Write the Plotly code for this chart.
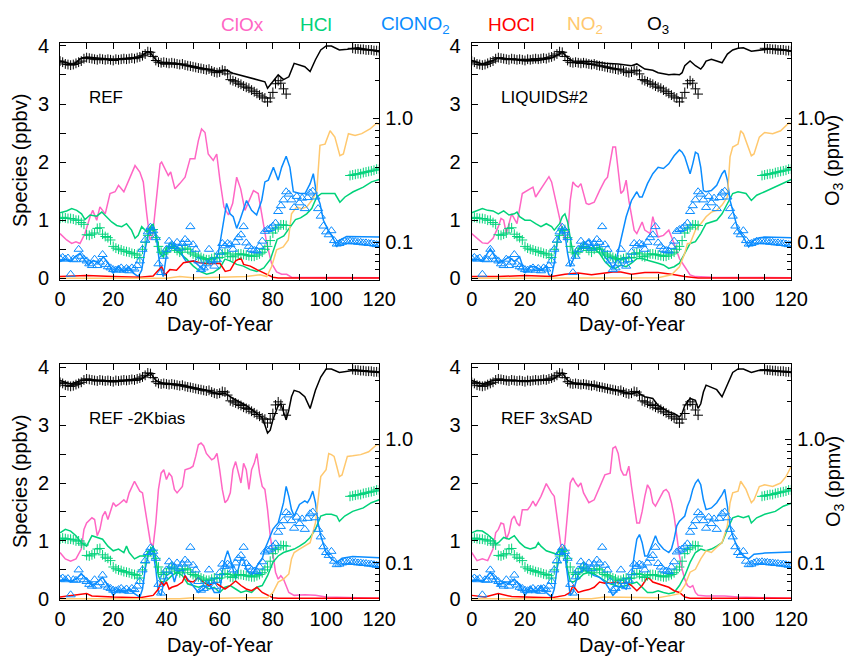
import plotly.graph_objects as go

# ---------------- data (day-of-year, value) ----------------
PANELS = ["REF", "LIQUIDS#2", "REF -2Kbias", "REF 3xSAD"]

# Observations (same in every panel); O3 in ppmv (right, log axis), others in ppbv
OBS_O3_DAYS = list(range(0, 86)) + list(range(110, 121))
OBS_O3 = [2.88, 2.82, 2.73, 2.70, 2.67, 2.70, 2.76, 2.82, 2.88, 3.01,
          3.07, 3.04, 3.01, 2.98, 2.95, 3.01, 2.98, 2.95, 2.98, 2.95,
          2.91, 2.98, 2.95, 2.98, 3.01, 2.98, 3.01, 3.04, 3.01, 3.07,
          3.11, 3.18, 3.28, 3.43, 3.39, 3.14, 2.91, 2.82, 2.79, 2.82,
          2.79, 2.76, 2.79, 2.76, 2.73, 2.70, 2.73, 2.67, 2.64, 2.62,
          2.59, 2.56, 2.53, 2.51, 2.48, 2.45, 2.48, 2.40, 2.35, 2.32,
          2.35, 2.43, 2.40, 2.27, 2.04, 2.00, 1.96, 1.91, 1.87, 1.81,
          1.77, 1.74, 1.68, 1.63, 1.58, 1.53, 1.48, 1.45, 1.35, 1.45,
          1.61, 1.89, 2.00, 1.91, 1.72, 1.56,
          3.65, 3.61, 3.61, 3.58, 3.58, 3.54, 3.54, 3.54, 3.50, 3.50, 3.46]

OBS_HCL_DAYS = list(range(0, 86)) + list(range(109, 121))
OBS_HCL = [1.03, 1.05, 1.04, 1.03, 1.03, 1.02, 1.00, 1.00, 0.96, 0.93,
           0.75, 0.74, 0.76, 0.78, 0.86, 0.87, 0.76, 0.72, 0.70, 0.66,
           0.55, 0.52, 0.50, 0.49, 0.47, 0.46, 0.45, 0.43, 0.42, 0.40,
           0.36, 0.50, 0.62, 0.74, 0.82, 0.84, 0.70, 0.55, 0.45, 0.42,
           0.45, 0.52, 0.55, 0.52, 0.48, 0.45, 0.50, 0.52, 0.50, 0.45,
           0.42, 0.40, 0.38, 0.36, 0.34, 0.32, 0.32, 0.34, 0.36, 0.35,
           0.36, 0.42, 0.44, 0.42, 0.38, 0.37, 0.40, 0.42, 0.42, 0.41,
           0.40, 0.39, 0.38, 0.38, 0.40, 0.42, 0.45, 0.50, 0.55, 0.65,
           0.78, 0.85, 0.88, 0.92, 0.92, 0.91,
           1.77, 1.78, 1.79, 1.80, 1.80, 1.82, 1.83, 1.84, 1.85, 1.86, 1.88, 1.88]

OBS_CLONO2_DAYS = list(range(0, 121))
OBS_CLONO2 = [0.34, 0.36, 0.33, 0.35, 0.07, 0.33, 0.32, 0.50, 0.38, 0.33,
              0.30, 0.25, 0.22, 0.33, 0.22, 0.28, 0.41, 0.24, 0.20, 0.18,
              0.15, 0.14, 0.16, 0.18, 0.14, 0.17, 0.13, 0.18, 0.16, 0.22,
              0.30, 0.50, 0.66, 0.80, 0.88, 0.82, 0.70, 0.25, 0.10, 0.38,
              0.50, 0.64, 0.58, 0.55, 0.62, 0.52, 0.60, 0.67, 0.62, 0.89,
              0.58, 0.50, 0.30, 0.15, 0.18, 0.25, 0.50, 0.30, 0.21, 0.32,
              0.45, 0.60, 0.56, 0.60, 0.58, 0.50, 0.62, 0.70, 0.75, 0.89,
              0.61, 0.55, 0.50, 0.48, 0.47, 0.55, 0.64, 0.81, 0.84, 0.86,
              0.90, 0.95, 1.15, 1.25, 1.35, 1.49, 1.45, 1.35, 1.22, 1.41,
              1.30, 1.38, 1.20, 1.39, 1.47, 1.50, 1.40, 1.20, 1.07, 0.90,
              0.80, 0.75, 0.82, 0.65, 0.59, 0.60, 0.62, 0.64, 0.63, 0.64,
              0.63, 0.63, 0.62, 0.62, 0.61, 0.61, 0.60, 0.60, 0.59, 0.58, 0.58]

# ---- Model: REF ----
REF_CLOX = [(0,0.77),(2.5,0.66),(4.4,0.6),(6,0.63),(7.5,0.6),(9.4,0.77),(11.3,1.06),(12.3,1.17),(13.8,1.0),(15,1.23),(17,1.11),(18.8,1.46),(20.7,1.49),(22,1.6),(24,1.49),(26.3,1.74),(28.2,1.94),(30,1.83),(31.3,1.66),(32.6,1.11),(33.8,0.66),(34.8,0.74),(36.3,1.34),(37.6,1.97),(38.2,2.0),(39.5,1.89),(40.7,1.77),(41.6,1.83),(43.2,1.54),(45,1.63),(47,1.74),(48.9,2.06),(50.7,2.06),(52,2.37),(53.2,2.57),(54.5,2.51),(55.7,2.14),(57.6,2.03),(58.9,2.14),(60.1,1.69),(61.6,1.23),(63.3,1.09),(64.9,1.29),(66.4,1.74),(67.9,1.54),(69.5,1.17),(71.2,1.34),(72.7,1.51),(74.5,1.46),(75.8,1.11),(77.7,0.6),(79.5,0.26),(81.4,0.11),(83.3,0.07),(85.2,0.07),(87,0.02),(100,0.02),(120,0.01)]
REF_HCL = [(0,1.13),(2.5,1.16),(4.4,1.2),(6.3,1.17),(8.1,1.11),(9.4,1.01),(11.3,1.09),(13.8,1.07),(15.7,1.14),(17.5,1.06),(19.4,0.97),(21.3,0.91),(23.2,0.89),(25,0.94),(26.9,0.83),(28.2,0.69),(29.4,0.74),(30.7,0.89),(32.6,0.8),(34,0.89),(35,0.93),(36.3,0.71),(37.6,0.43),(38.8,0.37),(40.1,0.54),(42,0.55),(44,0.47),(46,0.4),(47.6,0.33),(50.1,0.21),(52.6,0.12),(55.1,0.07),(57.6,0.1),(60.1,0.18),(62,0.33),(63.9,0.3),(66.4,0.24),(68.9,0.21),(71.5,0.15),(74,0.12),(76.6,0.18),(79.1,0.33),(81.6,0.67),(84.1,0.73),(86.6,0.9),(88.5,1.01),(90.4,1.04),(92.7,1.11),(94.6,1.2),(96.5,1.4),(98.3,1.46),(103.3,1.46),(105.2,1.31),(107.1,1.4),(110.2,1.49),(114,1.57),(117.1,1.66),(120,1.7)]
REF_CLONO2 = [(0,0.29),(1.9,0.33),(3.8,0.29),(5.6,0.37),(7.5,0.43),(9.4,0.31),(10.6,0.23),(12.5,0.31),(14.4,0.26),(16.3,0.37),(18.2,0.26),(20,0.09),(21.9,0.2),(23.8,0.11),(25.7,0.2),(27.6,0.09),(29.4,0.03),(30.7,0.14),(31.7,0.43),(33.2,0.77),(34.4,0.89),(35.7,0.77),(36.3,0.66),(37.6,0.2),(38.8,0.03),(40.1,0.43),(41.3,0.6),(43.2,0.55),(45.1,0.5),(46.4,0.36),(47.6,0.28),(50.2,0.3),(52.6,0.2),(54.1,0.14),(55.7,0.31),(57.6,0.26),(59.5,0.43),(60.8,0.77),(62.6,1.29),(63.9,1.11),(65.1,1.06),(66.4,0.86),(67.6,1.0),(70.1,1.34),(72,1.17),(73.9,1.09),(75.8,1.34),(77,1.66),(78.3,1.69),(80.2,1.91),(82,1.69),(83.3,1.91),(85,2.1),(86.4,1.91),(87.7,1.49),(90.2,1.46),(92.1,1.46),(94,1.63),(95.2,1.8),(96.5,1.43),(97.7,1.29),(99,1.0),(100.8,0.83),(102.7,0.69),(104,0.54),(105.2,0.66),(107.7,0.72),(120,0.71)]
REF_HOCL = [(0,0.03),(10,0.05),(20,0.03),(30,0.02),(35,0.04),(36.3,0.11),(38.2,0.2),(39.5,0.06),(41.3,0.15),(43.8,0.14),(46.4,0.27),(50.2,0.3),(52.6,0.27),(56.4,0.25),(60.1,0.26),(62.1,0.12),(64,0.14),(66,0.3),(68,0.35),(69,0.24),(71.5,0.21),(74,0.15),(77.9,0.07),(80,0.02),(82,0.005),(120,0.005)]
REF_NO2 = [(0,0.0),(40,0.0),(45,0.03),(50,0.01),(60,0.02),(70,0.03),(75.2,0.06),(77.7,0.03),(79.5,0.2),(81.4,0.49),(83.9,0.54),(85.8,0.66),(87,1.11),(89,1.23),(90.8,1.2),(92.7,1.23),(94.6,1.34),(96.5,1.5),(97.7,2.29),(99.6,2.31),(101.5,2.54),(103.3,2.43),(105.2,2.11),(106.5,2.14),(108.4,2.49),(110.9,2.46),(113.4,2.49),(116.5,2.57),(119,2.67),(120,2.65)]
REF_O3 = [(0,2.88),(3,2.76),(5,2.70),(8,3.04),(10,3.11),(15,3.04),(20,2.98),(25,3.04),(30,3.11),(33,3.43),(34,3.35),(36,2.95),(38,2.73),(45,2.73),(50,2.59),(55,2.48),(60,2.37),(62,2.45),(65,2.30),(70,2.15),(75,2.00),(77,1.96),(78,1.74),(80,1.96),(82,2.23),(84,2.04),(86,2.15),(88,2.76),(90,2.67),(92,2.59),(94,2.37),(96,2.95),(98,3.54),(100,3.81),(102,3.81),(105,3.54),(108,3.58),(112,3.69),(120,3.43)]

# ---- Model: LIQUIDS#2 ----
LIQ_CLOX = [(0,0.77),(2,0.69),(4,0.61),(6,0.6),(8,0.69),(10,0.89),(11,1.03),(12,1.0),(13,0.77),(15,1.11),(17,0.94),(19,1.46),(21,1.51),(23,1.57),(24,1.4),(26,1.54),(28,1.69),(29,1.75),(30,1.66),(32,1.23),(34,0.83),(35,0.66),(36,0.71),(37,1.34),(38,1.66),(39,1.6),(40,1.57),(41,1.63),(42,1.46),(43,1.29),(44,1.27),(46,1.31),(48,1.51),(50,1.69),(51,1.74),(52,1.97),(53,2.26),(54,2.26),(55,1.8),(56,1.46),(57,1.51),(58,1.69),(59,1.34),(60,1.06),(61,0.83),(62,0.77),(64,0.97),(65,0.83),(67,0.77),(68,1.06),(69,0.89),(70,0.71),(72,0.74),(74,0.83),(76,0.6),(78,0.34),(80,0.2),(82,0.06),(84,0.03),(90,0.02),(120,0.01)]
LIQ_HCL = [(0,1.13),(2,1.16),(4,1.2),(6,1.17),(8,1.16),(10,1.11),(12,1.16),(14,1.09),(16,1.11),(17,1.14),(18,1.06),(20,1.0),(22,1.0),(24,0.94),(26,0.89),(28,0.94),(30,0.89),(31,0.83),(33,0.94),(34,1.06),(35,1.11),(36,0.97),(37,0.66),(38,0.43),(39,0.43),(40,0.49),(42,0.54),(44,0.54),(46,0.51),(48,0.43),(50,0.29),(52,0.2),(54,0.17),(56,0.23),(58,0.2),(60,0.26),(62,0.34),(64,0.34),(66,0.31),(68,0.29),(70,0.26),(72,0.23),(74,0.17),(76,0.2),(78,0.26),(80,0.43),(82,0.6),(84,0.63),(86,0.77),(88,0.94),(90,0.97),(92,1.0),(94,1.11),(96,1.29),(98,1.46),(100,1.49),(103,1.46),(105,1.34),(107,1.43),(110,1.49),(114,1.57),(117,1.64),(120,1.7)]
LIQ_CLONO2 = [(0,0.33),(2,0.33),(4,0.29),(6,0.43),(7,0.51),(8,0.43),(10,0.26),(12,0.31),(14,0.37),(16,0.29),(18,0.37),(20,0.09),(22,0.2),(24,0.2),(26,0.14),(28,0.2),(29,0.06),(30,0.03),(31,0.26),(32,0.6),(33,0.77),(34,0.89),(35,0.77),(36,0.43),(37,0.2),(38,0.31),(39,0.43),(40,0.49),(42,0.6),(44,0.66),(46,0.51),(48,0.54),(50,0.37),(52,0.26),(53,0.17),(54,0.26),(56,0.66),(58,1.06),(60,1.34),(62,1.49),(63,1.4),(64,1.4),(66,1.63),(68,1.8),(70,1.91),(72,1.89),(74,1.97),(76,2.11),(78,2.21),(79,2.17),(80,2.09),(82,1.8),(83,1.97),(84,2.17),(85,2.14),(86,1.91),(87,1.51),(88,1.49),(90,1.51),(92,1.6),(94,1.8),(95,1.86),(96,1.69),(97,1.34),(98,1.17),(100,0.83),(102,0.71),(104,0.54),(106,0.66),(108,0.7),(110,0.71),(120,0.7)]
LIQ_HOCL = [(0,0.03),(10,0.03),(20,0.05),(30,0.03),(35,0.07),(40,0.09),(45,0.06),(50,0.09),(53,0.11),(56,0.11),(60,0.07),(65,0.1),(70,0.1),(75,0.07),(80,0.03),(85,0.005),(120,0.005)]
LIQ_NO2 = [(0,0.0),(70,0.01),(75,0.06),(78,0.2),(80,0.43),(81,0.6),(82,0.6),(84,0.83),(86,0.94),(88,1.06),(90,1.14),(92,1.17),(94,1.26),(96,1.4),(97,2.09),(98,2.26),(100,2.31),(101,2.54),(102,2.49),(103,2.37),(104,2.26),(105,2.11),(106,2.14),(108,2.43),(110,2.51),(113,2.49),(116,2.54),(119,2.67),(120,2.66)]
LIQ_O3 = [(0,2.91),(4,2.73),(8,2.91),(10,3.04),(15,2.98),(20,2.88),(25,2.91),(30,3.04),(34,3.39),(36,3.07),(38,2.88),(45,2.85),(50,2.76),(55,2.73),(60,2.64),(62,2.73),(65,2.48),(68,2.43),(70,2.32),(74,2.23),(76,2.25),(78,2.23),(79,2.32),(80,2.64),(82,2.88),(84,2.64),(86,2.48),(87,2.64),(88,2.88),(90,2.98),(92,2.88),(94,2.79),(96,3.28),(98,3.54),(100,3.65),(102,3.69),(105,3.46),(108,3.54),(112,3.61),(116,3.58),(120,3.46)]

# ---- Model: REF -2Kbias ----
BIAS_CLOX = [(0,0.8),(2,0.69),(4,0.65),(6,0.69),(8,0.86),(9,1.2),(10,1.31),(12,1.4),(13,1.37),(14,1.09),(15,1.2),(16,1.43),(17,1.51),(18,1.37),(20,1.66),(21,1.6),(22,1.63),(24,1.71),(25,1.66),(26,1.83),(28,2.03),(30,1.86),(31,1.83),(32,1.54),(33,1.2),(34,0.97),(35,0.91),(36,1.31),(37,1.89),(38,2.17),(39,2.23),(40,2.06),(41,2.17),(42,2.11),(43,1.89),(44,1.83),(46,1.94),(47,2.23),(49,2.26),(50,2.29),(51,2.46),(52,2.66),(53,2.69),(54,2.64),(55,2.51),(57,2.4),(58,2.43),(59,2.51),(60,2.23),(61,1.89),(62,1.66),(63,1.71),(64,1.83),(65,2.23),(66,2.37),(67,2.17),(68,2.0),(69,2.34),(70,2.23),(71,1.89),(72,2.23),(73,2.34),(74,2.51),(75,2.17),(76,1.94),(77,1.89),(78,1.54),(79,1.09),(80,0.74),(81,0.46),(82,0.34),(83,0.4),(84,0.34),(85,0.23),(86,0.11),(88,0.06),(92,0.07),(96,0.06),(100,0.03),(120,0.01)]
BIAS_HCL = [(0,1.14),(2,1.2),(4,1.17),(6,1.09),(8,0.97),(10,0.91),(12,1.09),(14,1.06),(16,1.03),(18,0.91),(20,0.83),(22,0.86),(24,0.8),(25,0.91),(26,0.8),(28,0.69),(30,0.74),(32,0.74),(34,0.86),(35,0.91),(36,0.69),(37,0.4),(38,0.29),(40,0.31),(42,0.4),(44,0.46),(46,0.4),(47,0.34),(48,0.26),(50,0.23),(52,0.2),(54,0.23),(56,0.17),(58,0.2),(60,0.11),(62,0.2),(64,0.23),(66,0.17),(68,0.11),(70,0.14),(72,0.11),(74,0.2),(76,0.23),(78,0.4),(80,0.63),(82,0.74),(84,0.8),(86,0.83),(88,0.86),(90,0.91),(92,0.97),(94,1.06),(96,1.2),(98,1.43),(100,1.46),(102,1.46),(104,1.43),(105,1.34),(107,1.43),(110,1.51),(114,1.57),(117,1.66),(120,1.71)]
BIAS_CLONO2 = [(0,0.31),(2,0.34),(4,0.29),(6,0.34),(8,0.43),(10,0.34),(12,0.23),(14,0.29),(16,0.37),(18,0.23),(20,0.06),(22,0.17),(24,0.11),(26,0.17),(28,0.09),(30,0.03),(31,0.17),(32,0.51),(33,0.74),(34,0.86),(35,0.8),(36,0.51),(37,0.11),(38,0.06),(39,0.29),(40,0.4),(42,0.46),(43,0.29),(44,0.46),(46,0.51),(47,0.4),(48,0.34),(50,0.23),(52,0.11),(54,0.17),(56,0.29),(58,0.11),(60,0.11),(61,0.46),(62,0.69),(63,0.83),(64,0.69),(66,0.34),(67,0.51),(68,0.69),(69,0.69),(70,0.51),(72,0.4),(74,0.57),(76,0.69),(77,0.86),(78,0.97),(80,1.2),(81,1.26),(82,1.31),(84,1.66),(85,1.94),(86,1.77),(87,1.54),(88,1.43),(90,1.63),(92,1.69),(93,1.66),(94,1.74),(95,1.86),(96,1.66),(97,1.31),(98,1.09),(100,0.8),(102,0.69),(104,0.63),(106,0.7),(110,0.73),(120,0.71)]
BIAS_HOCL = [(0,0.03),(10,0.09),(12,0.05),(20,0.03),(30,0.02),(35,0.06),(37,0.17),(38,0.29),(39,0.23),(40,0.29),(41,0.17),(42,0.2),(44,0.23),(46,0.29),(47,0.4),(48,0.31),(50,0.29),(52,0.37),(54,0.29),(56,0.23),(58,0.29),(60,0.23),(62,0.17),(64,0.23),(66,0.31),(68,0.23),(70,0.17),(72,0.14),(74,0.2),(76,0.11),(78,0.06),(80,0.02),(82,0.01),(120,0.01)]
BIAS_NO2 = [(0,0.0),(45,0.0),(50,0.02),(60,0.01),(70,0.02),(78,0.02),(80,0.11),(82,0.29),(84,0.34),(86,0.43),(87,0.69),(88,0.8),(90,0.86),(92,0.91),(94,0.97),(96,1.31),(97,1.77),(98,2.11),(100,2.23),(101,2.51),(102,2.49),(103,2.46),(104,2.29),(105,2.11),(106,2.14),(108,2.46),(110,2.47),(113,2.49),(116,2.54),(119,2.66),(120,2.66)]
BIAS_O3 = [(0,2.98),(4,2.79),(8,2.98),(10,3.01),(20,2.91),(30,3.01),(34,3.43),(36,2.98),(38,2.85),(45,2.76),(50,2.62),(55,2.48),(60,2.30),(62,2.35),(65,2.13),(70,1.87),(74,1.61),(76,1.49),(77,1.30),(78,1.12),(79,1.18),(80,1.43),(82,1.87),(83,1.93),(84,1.66),(85,1.43),(86,1.72),(87,2.20),(88,2.48),(90,2.40),(92,2.20),(94,1.77),(96,2.48),(98,3.18),(100,3.69),(102,3.69),(105,3.46),(110,3.58),(120,3.46)]

# ---- Model: REF 3xSAD ----
SAD_CLOX = [(0,0.8),(2,0.66),(4,0.69),(6,0.66),(8,0.86),(9,1.14),(10,1.2),(11,1.31),(12,1.29),(13,1.03),(14,1.14),(15,1.37),(16,1.43),(17,1.31),(18,1.26),(19,1.54),(21,1.54),(22,1.6),(23,1.69),(24,1.6),(26,1.77),(28,1.99),(30,1.83),(31,1.77),(32,1.43),(33,1.09),(34,0.74),(35,0.97),(36,1.54),(37,2.0),(38,2.09),(39,2.0),(40,1.94),(41,2.0),(42,1.83),(44,1.66),(46,1.71),(48,1.94),(50,2.14),(52,2.17),(53,2.6),(54,2.63),(55,2.51),(56,2.23),(57,2.14),(58,2.14),(59,2.29),(60,1.94),(61,1.6),(62,1.31),(63,1.31),(64,1.51),(65,1.77),(66,1.97),(67,1.89),(68,1.66),(69,1.6),(70,1.69),(71,1.77),(72,1.86),(73,1.89),(74,1.83),(75,1.66),(76,1.43),(77,1.09),(78,0.74),(79,0.51),(80,0.34),(81,0.23),(82,0.2),(83,0.23),(84,0.11),(85,0.06),(88,0.05),(95,0.05),(100,0.03),(120,0.01)]
SAD_HCL = [(0,1.14),(2,1.18),(4,1.17),(6,1.11),(8,1.03),(9,0.94),(10,0.97),(12,1.06),(14,1.03),(16,1.09),(18,0.97),(20,0.89),(22,0.86),(24,0.89),(25,0.97),(26,0.91),(28,0.83),(30,0.8),(32,0.77),(33,0.86),(34,0.86),(35,0.8),(36,0.51),(37,0.31),(38,0.29),(40,0.34),(42,0.43),(44,0.46),(46,0.43),(48,0.37),(50,0.31),(52,0.26),(54,0.23),(56,0.2),(58,0.23),(60,0.26),(62,0.29),(64,0.2),(66,0.11),(68,0.11),(70,0.14),(72,0.11),(74,0.09),(76,0.11),(78,0.23),(80,0.4),(82,0.63),(84,0.8),(86,0.86),(88,0.83),(90,0.86),(92,0.91),(94,0.97),(96,1.2),(98,1.4),(100,1.43),(102,1.4),(104,1.43),(105,1.31),(107,1.4),(110,1.46),(114,1.51),(117,1.6),(120,1.65)]
SAD_CLONO2 = [(0,0.31),(2,0.33),(4,0.29),(6,0.4),(7,0.46),(8,0.4),(10,0.23),(12,0.29),(14,0.26),(16,0.34),(18,0.23),(20,0.06),(22,0.2),(24,0.11),(26,0.23),(28,0.11),(30,0.03),(31,0.17),(32,0.51),(33,0.74),(34,0.86),(35,0.74),(36,0.4),(37,0.06),(38,0.11),(39,0.29),(40,0.43),(42,0.51),(44,0.46),(46,0.4),(48,0.37),(50,0.29),(52,0.14),(53,0.06),(54,0.11),(56,0.23),(58,0.17),(60,0.4),(61,0.74),(62,1.03),(63,1.11),(64,0.97),(65,0.74),(66,0.74),(68,0.97),(69,1.09),(70,0.97),(72,0.86),(74,0.8),(75,0.86),(76,1.03),(77,1.26),(78,1.34),(80,1.43),(81,1.6),(82,1.71),(83,1.89),(84,2.0),(85,2.06),(86,1.97),(87,1.71),(88,1.54),(90,1.57),(92,1.66),(94,1.8),(95,1.89),(96,1.6),(97,1.26),(98,1.09),(100,0.86),(102,0.74),(104,0.69),(106,0.77),(110,0.79),(115,0.8),(120,0.81)]
SAD_HOCL = [(0,0.06),(5,0.03),(10,0.09),(15,0.04),(20,0.03),(30,0.02),(35,0.06),(37,0.11),(38,0.23),(39,0.17),(40,0.11),(42,0.14),(44,0.16),(46,0.2),(48,0.29),(50,0.27),(52,0.27),(54,0.29),(56,0.26),(58,0.29),(60,0.23),(62,0.14),(64,0.23),(66,0.37),(67,0.34),(68,0.29),(70,0.26),(72,0.23),(74,0.2),(76,0.14),(78,0.11),(80,0.03),(82,0.01),(120,0.01)]
SAD_NO2 = [(0,0.0),(45,0.0),(50,0.03),(60,0.02),(70,0.02),(75,0.06),(78,0.09),(80,0.23),(82,0.46),(84,0.51),(86,0.69),(88,0.83),(90,0.8),(92,0.89),(94,0.97),(96,1.26),(97,1.66),(98,1.83),(100,1.86),(101,2.03),(102,1.97),(103,1.89),(104,1.77),(105,1.66),(106,1.71),(108,1.94),(110,1.97),(113,1.94),(116,2.0),(118,2.11),(120,2.29)]
SAD_O3 = [(0,2.98),(4,2.79),(8,2.98),(10,3.01),(20,2.95),(30,3.01),(34,3.43),(36,2.98),(38,2.85),(45,2.76),(50,2.62),(55,2.45),(60,2.32),(62,2.40),(65,2.20),(68,2.13),(70,1.87),(74,1.66),(76,1.61),(78,1.51),(79,1.61),(80,1.87),(82,2.13),(84,2.06),(85,1.77),(86,1.93),(87,2.40),(88,2.73),(90,2.62),(92,2.51),(94,2.20),(96,2.79),(98,3.46),(100,3.69),(102,3.69),(105,3.46),(108,3.61),(120,3.46)]

MODEL = [
    [REF_CLOX, REF_HCL, REF_CLONO2, REF_HOCL, REF_NO2, REF_O3],
    [LIQ_CLOX, LIQ_HCL, LIQ_CLONO2, LIQ_HOCL, LIQ_NO2, LIQ_O3],
    [BIAS_CLOX, BIAS_HCL, BIAS_CLONO2, BIAS_HOCL, BIAS_NO2, BIAS_O3],
    [SAD_CLOX, SAD_HCL, SAD_CLONO2, SAD_HOCL, SAD_NO2, SAD_O3],
]
SPECIES = ["ClOx", "HCl", "ClONO2", "HOCl", "NO2", "O3"]
LEGEND_TEXT = ["ClOx", "HCl", "ClONO<sub>2</sub>", "HOCl", "NO<sub>2</sub>", "O<sub>3</sub>"]
COLORS = ["#FF66C4", "#00D27A", "#0A8CFF", "#FF0000", "#FFC86E", "#000000"]

X_TICKS = [0, 20, 40, 60, 80, 100, 120]
Y_TICKS = [0, 1, 2, 3, 4]
R_TICKS = [0.1, 1.0]
R_TICKTEXT = ["0.1", "1.0"]
R_MINOR = [0.05, 0.06, 0.07, 0.08, 0.09, 0.2, 0.3, 0.4, 0.5, 0.6, 0.7, 0.8, 0.9, 2, 3, 4]

# ---------------- figure ----------------
W, H = 848, 656
FONT = "Liberation Sans, Arial, Helvetica, sans-serif"
XDOM = [[60 / W, 379.3 / W], [471.7 / W, 791.3 / W]] * 2
YTOP = [1 - 279.5 / H, 1 - 43 / H]
YBOT = [1 - 600 / H, 1 - 364.3 / H]
YDOM = [YTOP, YTOP, YBOT, YBOT]

fig = go.Figure()
layout = {}
annotations = []

for i, label in enumerate(PANELS):
    k = i + 1
    xa = "x" if k == 1 else f"x{k}"
    ya = "y" if k == 1 else f"y{k}"
    ra = f"y{k + 4}"
    for s, (data, color) in enumerate(zip(MODEL[i], COLORS)):
        fig.add_trace(go.Scatter(
            x=[d for d, _ in data], y=[v for _, v in data], mode="lines",
            line=dict(color=color, width=1.5), name=SPECIES[s],
            xaxis=xa, yaxis=(ra if SPECIES[s] == "O3" else ya),
            showlegend=False, hoverinfo="skip"))
    fig.add_trace(go.Scatter(
        x=OBS_HCL_DAYS, y=OBS_HCL, mode="markers", name="HCl obs",
        marker=dict(symbol="cross-thin", size=7, line=dict(color=COLORS[1], width=1)),
        xaxis=xa, yaxis=ya, showlegend=False, hoverinfo="skip"))
    fig.add_trace(go.Scatter(
        x=OBS_CLONO2_DAYS, y=OBS_CLONO2, mode="markers", name="ClONO2 obs",
        marker=dict(symbol="triangle-up-open", size=8, color=COLORS[2],
                    line=dict(color=COLORS[2], width=1)),
        xaxis=xa, yaxis=ya, showlegend=False, hoverinfo="skip"))
    fig.add_trace(go.Scatter(
        x=OBS_O3_DAYS, y=OBS_O3, mode="markers", name="O3 obs",
        marker=dict(symbol="cross-thin", size=7, line=dict(color="black", width=1)),
        xaxis=xa, yaxis=ra, showlegend=False, hoverinfo="skip"))

    xkey = "xaxis" if k == 1 else f"xaxis{k}"
    ykey = "yaxis" if k == 1 else f"yaxis{k}"
    rkey = f"yaxis{k + 4}"
    layout[xkey] = dict(
        domain=XDOM[i], anchor=ya, range=[0, 120], tickvals=X_TICKS,
        ticks="inside", ticklen=6, tickwidth=1, tickcolor="black",
        minor=dict(dtick=10, tick0=0, ticks="inside", ticklen=6, tickcolor="black"),
        showline=True, linecolor="black", linewidth=1, mirror="ticks",
        showgrid=False, zeroline=False, automargin=False,
        tickfont=dict(family=FONT, size=20, color="black"), ticklabelstandoff=1)
    layout[ykey] = dict(
        domain=YDOM[i], anchor=xa, range=[-0.02, 4.05], tickvals=Y_TICKS,
        ticks="inside", ticklen=6, tickwidth=1, tickcolor="black",
        minor=dict(dtick=0.5, tick0=0, ticks="inside", ticklen=6, tickcolor="black"),
        showline=True, linecolor="black", linewidth=1, mirror=True,
        showgrid=False, zeroline=False, automargin=False,
        tickfont=dict(family=FONT, size=20, color="black"), ticklabelstandoff=6)
    layout[rkey] = dict(
        overlaying=ya, anchor=xa, side="right", type="log",
        range=[-1.302, 0.605], tickvals=R_TICKS, ticktext=R_TICKTEXT,
        ticks="inside", ticklen=6, tickcolor="black",
        minor=dict(tickvals=R_MINOR, ticks="inside", ticklen=4, tickcolor="black"),
        showline=False, showgrid=False, zeroline=False, automargin=False,
        tickfont=dict(family=FONT, size=20, color="black"), ticklabelstandoff=5)
    annotations.append(dict(
        text=label, xref=xa, yref=ya, x=10.2, y=3.12, xanchor="left", yanchor="middle",
        showarrow=False, font=dict(family=FONT, size=17, color="black")))

# axis titles as positioned text
for cx in [219.7, 631.5]:
    for cy in [324, 645]:
        annotations.append(dict(text="Day-of-Year", xref="paper", yref="paper",
                                x=cx / W, y=1 - cy / H, xanchor="center", yanchor="middle",
                                showarrow=False, font=dict(family=FONT, size=20, color="black")))
for cy in [161, 482]:
    annotations.append(dict(text="Species (ppbv)", xref="paper", yref="paper",
                            x=20 / W, y=1 - cy / H, xanchor="center", yanchor="middle",
                            textangle=-90, showarrow=False,
                            font=dict(family=FONT, size=20, color="black")))
    annotations.append(dict(text="O<sub>3</sub> (ppmv)", xref="paper", yref="paper",
                            x=834 / W, y=1 - cy / H, xanchor="center", yanchor="middle",
                            textangle=-90, showarrow=False,
                            font=dict(family=FONT, size=20, color="black")))

# colour key across the top
for txt, col, cx in zip(LEGEND_TEXT, COLORS, [242, 316, 415, 510.5, 585, 657.5]):
    annotations.append(dict(text=txt, xref="paper", yref="paper", x=cx / W, y=1 - 25 / H,
                            xanchor="center", yanchor="middle", showarrow=False,
                            font=dict(family=FONT, size=19, color=col)))

fig.update_layout(
    width=W, height=H, margin=dict(l=0, r=0, t=0, b=0, autoexpand=False),
    plot_bgcolor="white", paper_bgcolor="white", showlegend=False,
    annotations=annotations, **layout)

fig.write_html("out.html", config={"displayModeBar": False},
               post_script="document.body.style.margin='0';document.body.style.overflow='hidden';")
